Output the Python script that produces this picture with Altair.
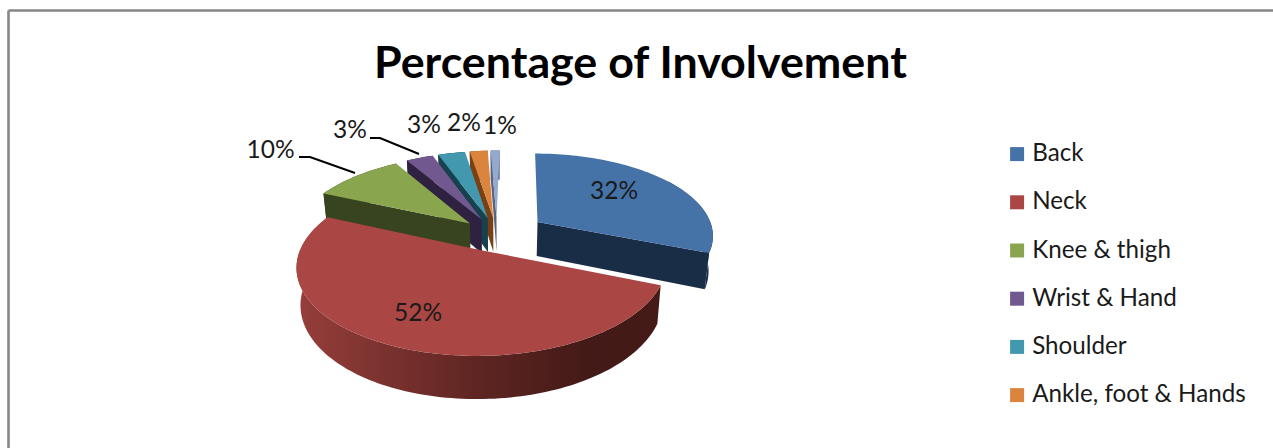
import math
import altair as alt

# Share of involvement by body region, as printed on the slices
categories = ["Back", "Neck", "Knee & thigh", "Wrist & Hand", "Shoulder", "Ankle, foot & Hands", "Other"]
percentages = [32, 52, 10, 3, 3, 2, 1]
legend_entries = categories[:6]
top_colors = ["#4572A7", "#AA4643", "#89A54E", "#71588F", "#4198AF", "#DB843D", "#93A9CF"]
wall_colors = ["#1A2D47", "#451A17", "#38431F", "#2E2240", "#16414D", "#7A4015", "#56647F"]
explosions = [0.28, 0.20, 0.21, 0.21, 0.21, 0.21, 0.21]

# Slice drawing order, far to near
paint_order = ["Other", "Ankle, foot & Hands", "Shoulder", "Wrist & Hand", "Knee & thigh", "Back"]

# Tilted-disc view of the pie
CX, CY, RX, RY, PERSPECTIVE, DEPTH, BASE_SHRINK, SHEAR = 497, 234.6, 177, 83, 0.16, 35, 0.98, 3
FONT = "Lato"
W, H = 1273, 448


def project(u, v, lowered=False):
    f = 1 + PERSPECTIVE * v
    x = RX * u / f
    y = CY - RY * v / f
    if lowered:
        y += DEPTH / f
        x *= BASE_SHRINK
    return [round(CX + x + SHEAR * v, 2), round(y, 2)]


def polygon(points, key):
    ring = points + [points[0]]
    return {"type": "Feature", "geometry": {"type": "Polygon", "coordinates": [ring]},
            "properties": {"key": key}}


total = sum(percentages)
slices = {}
start = 0.0
for name, pct, boom in zip(categories, percentages, explosions):
    sweep = 2 * math.pi * pct / total
    mid = start + sweep / 2
    ou, ov = boom * math.sin(mid), boom * math.cos(mid)
    steps = max(4, int(sweep * 40))
    rim = [(ou + math.sin(start + sweep * i / steps), ov + math.cos(start + sweep * i / steps))
           for i in range(steps + 1)]
    slices[name] = {"apex": (ou, ov), "rim": rim, "mid": mid}
    start += sweep


def top_face(name):
    s = slices[name]
    return polygon([project(*s["apex"])] + [project(*p) for p in s["rim"]], name)


def rim_wall(name, key):
    s = slices[name]
    # The far half of the rim on a right-hand slice stays hidden behind its top
    rim = s["rim"][len(s["rim"]) // 2:] if s["mid"] < math.pi else s["rim"]
    return polygon([project(*p) for p in rim] +
                   [project(*p, lowered=True) for p in reversed(rim)], key)


def cut_wall(name, edge, key):
    s = slices[name]
    return polygon([project(*s["apex"]), project(*edge), project(*edge, lowered=True),
                    project(*s["apex"], lowered=True)], key)


far_faces = []
for name in paint_order:
    wall = name + " wall"
    s = slices[name]
    # Only the cut face turned toward the viewer is visible
    facing_edge = s["rim"][-1] if s["mid"] < math.pi else s["rim"][0]
    far_faces.append(rim_wall(name, wall))
    far_faces.append(cut_wall(name, facing_edge, wall))
    far_faces.append(top_face(name))

color_scale = alt.Scale(domain=categories + [c + " wall" for c in categories],
                        range=top_colors + wall_colors)
color = alt.Color(
    "properties.key:N", scale=color_scale,
    legend=alt.Legend(values=legend_entries, title=None, orient="none", legendX=1005, legendY=142,
                      symbolType="square", symbolSize=196, symbolStrokeWidth=0, labelFont=FONT,
                      labelFontSize=24.2, labelColor="#1a1a1a", labelOffset=3, rowPadding=23.2,
                      labelLimit=300),
)
identity = dict(type="identity", scale=1, translate=[0, 0])

far_layer = alt.Chart(alt.Data(values=far_faces)).mark_geoshape().encode(color=color).project(**identity)

neck_side = alt.Chart(alt.Data(values=[rim_wall("Neck", "Neck wall")])).mark_geoshape(
    fill=alt.Gradient(gradient="linear", x1=0, x2=1, y1=0, y2=0,
                      stops=[alt.GradientStop(color="#963E3B", offset=0),
                             alt.GradientStop(color="#5E2522", offset=0.5),
                             alt.GradientStop(color="#431A17", offset=0.8),
                             alt.GradientStop(color="#451A17", offset=1)]),
).project(**identity)

neck_top = alt.Chart(alt.Data(values=[top_face("Neck")])).mark_geoshape().encode(color=color).project(**identity)

# Value labels
label_x = [614, 418, 270.5, 350, 424, 464, 500]
label_y = [192, 314, 151, 131, 126, 124, 127]
label_rows = [{"x": x, "y": y, "text": f"{p}%"} for x, y, p in zip(label_x, label_y, percentages)]
labels = alt.Chart(alt.Data(values=label_rows)).mark_text(
    font=FONT, fontSize=24.5, color="#1a1a1a", align="center", baseline="middle"
).encode(x=alt.X("x:Q", scale=None), y=alt.Y("y:Q", scale=None), text="text:N")

# Leader lines from the two outlying labels to their slices
leader_rows = [
    {"id": "knee", "order": 0, "x": 299, "y": 157}, {"id": "knee", "order": 1, "x": 310, "y": 157},
    {"id": "knee", "order": 2, "x": 355, "y": 173},
    {"id": "wrist", "order": 0, "x": 370, "y": 138}, {"id": "wrist", "order": 1, "x": 380, "y": 138},
    {"id": "wrist", "order": 2, "x": 419, "y": 154},
]
leaders = alt.Chart(alt.Data(values=leader_rows)).mark_line(color="#000000", strokeWidth=2).encode(
    x=alt.X("x:Q", scale=None), y=alt.Y("y:Q", scale=None), detail="id:N", order="order:Q")

# Chart-area border, running off the right and bottom of the canvas
frame_rows = [{"x": 8.5, "x2": 1273, "y": 10.5, "y2": 10.5}, {"x": 8.5, "x2": 8.5, "y": 10.5, "y2": 448}]
frame = alt.Chart(alt.Data(values=frame_rows)).mark_rule(color="#868686", strokeWidth=2.6).encode(
    x=alt.X("x:Q", scale=None), x2="x2:Q", y=alt.Y("y:Q", scale=None), y2="y2:Q")

chart = alt.layer(frame, far_layer, neck_side, neck_top, leaders, labels).properties(
    width=W, height=H, padding=0, autosize=alt.AutoSizeParams(type="none"),
    title=alt.TitleParams("Percentage of Involvement", font=FONT, fontSize=44.8, fontWeight="bold",
                          color="#000000", anchor="start", dx=374, dy=132, baseline="bottom", offset=0),
).configure_view(stroke=None).resolve_scale(color="shared")

chart.save("out.html", embed_options={"renderer": "svg", "actions": False})
